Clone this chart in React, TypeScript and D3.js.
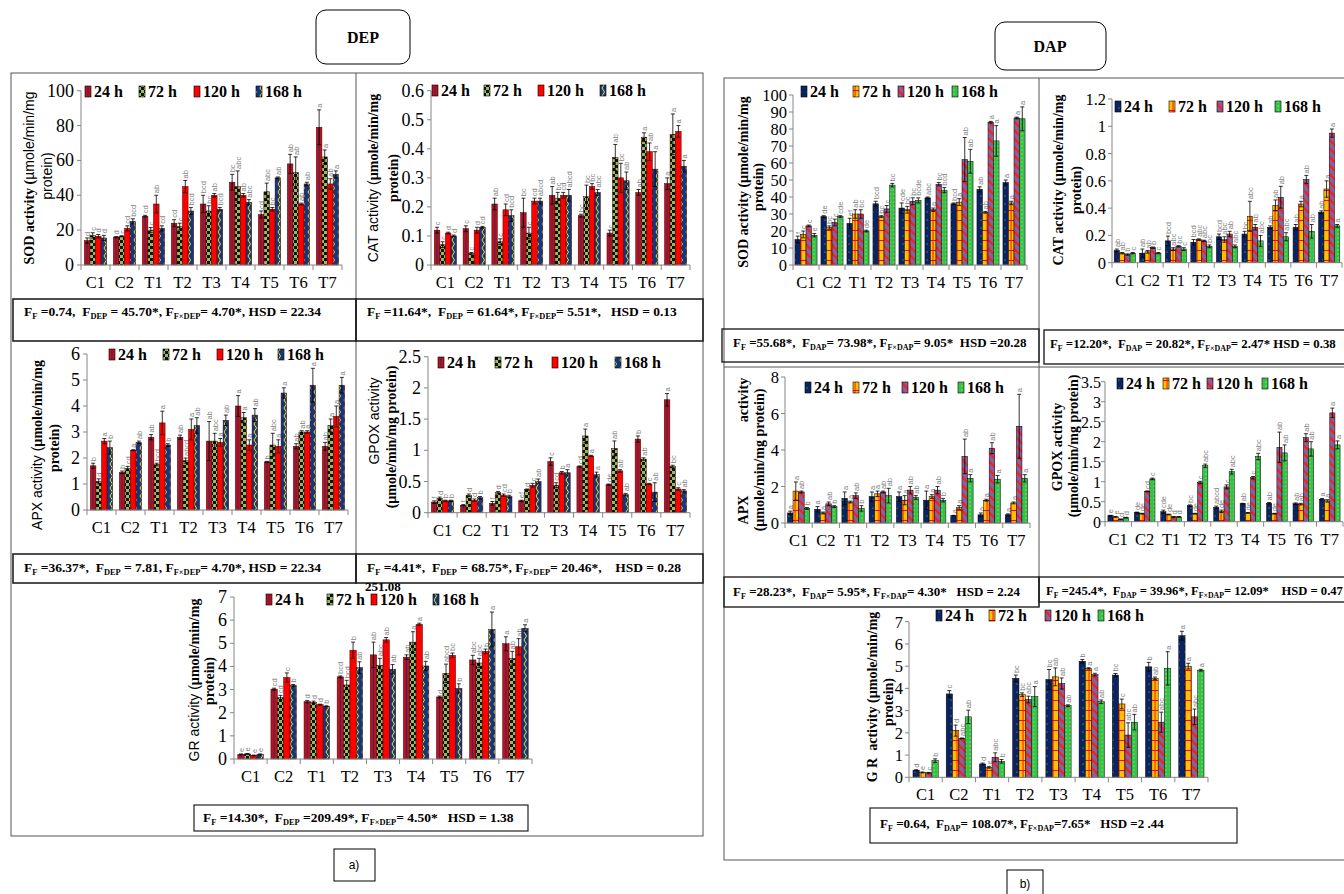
import React from "react";
import * as d3 from "d3";

const categories = ["C1", "C2", "T1", "T2", "T3", "T4", "T5", "T6", "T7"];
const hours = ["24 h", "72 h", "120 h", "168 h"];

// ---- DEP ----
const depSod = [[14, 17, 16.5, 15.5], [16, 16.5, 21, 25], [28, 20, 35, 21], [24, 22, 45, 31], [35, 31, 40, 32], [47.5, 45, 40, 36], [29, 42, 32, 50], [58, 53, 35, 46.5], [79, 62, 46.5, 52]];
const depSodErr = [[1.5, 1.5, 1, 1.5], [0.3, 0.3, 1.5, 1.5], [0.5, 1.5, 5, 1.5], [2, 2, 3.5, 2], [5, 3, 1, 1], [4.5, 9, 1, 1.5], [2, 5, 1, 0.5], [5.5, 9, 0.5, 1], [10, 4, 3, 2]];
const depSodSig = [["d", "c", "d", "d"], ["d", "c", "cd", "bcd"], ["cd", "c", "ab", "cd"], ["cd", "c", "ab", "bcd"], ["bcd", "bc", "ab", "bcd"], ["bc", "abc", "ab", "abc"], ["cd", "abc", "bc", "ab"], ["ab", "ab", "ab", "ab"], ["a", "a", "ab", "a"]];

const depCat = [[0.12, 0.07, 0.11, 0.1], [0.125, 0.04, 0.12, 0.13], [0.21, 0.08, 0.19, 0.17], [0.18, 0.11, 0.22, 0.22], [0.24, 0.23, 0.24, 0.24], [0.17, 0.235, 0.27, 0.25], [0.11, 0.37, 0.3, 0.29], [0.25, 0.44, 0.39, 0.33], [0.28, 0.45, 0.46, 0.34]];
const depCatErr = [[0.01, 0.01, 0.003, 0.003], [0.01, 0.003, 0.01, 0.003], [0.02, 0.01, 0.02, 0.02], [0.05, 0.02, 0.01, 0.01], [0.03, 0.02, 0.01, 0.02], [0.005, 0.04, 0.01, 0.01], [0.01, 0.045, 0.05, 0.03], [0.01, 0.015, 0.03, 0.06], [0.02, 0.07, 0.02, 0.02]];
const depCatSig = [["c", "c", "d", "d"], ["c", "c", "d", "cd"], ["ab", "c", "cd", "bcd"], ["bc", "c", "cd", "abcd"], ["ab", "bc", "cd", "abcd"], ["bc", "bc", "bc", "abc"], ["c", "ab", "bc", "ab"], ["ab", "a", "ab", "a"], ["a", "a", "a", "a"]];

const depApx = [[1.7, 1.1, 2.65, 2.4], [1.45, 1.6, 2.3, 2.6], [2.8, 1.75, 3.35, 2.5], [2.8, 1.9, 3.1, 3.25], [2.65, 2.65, 2.6, 3.45], [4.0, 3.55, 2.5, 3.65], [1.85, 2.5, 2.45, 4.5], [2.45, 3.0, 3.0, 4.8], [2.45, 3.25, 3.6, 4.8]];
const depApxErr = [[0.1, 0.1, 0.1, 0.25], [0.05, 0.08, 0.02, 0.05], [0.1, 0.05, 0.45, 0.05], [0.08, 0.1, 0.4, 0.3], [0.75, 0.3, 0.15, 0.2], [0.4, 0.2, 0.2, 0.25], [0.02, 0.45, 0.25, 0.2], [0.1, 0.05, 0.05, 0.65], [0.15, 0.25, 0.4, 0.3]];
const depApxSig = [["b", "d", "a", "b"], ["b", "cd", "a", "ab"], ["ab", "bcd", "a", "b"], ["ab", "abcd", "a", "ab"], ["ab", "abc", "a", "ab"], ["a", "a", "a", "ab"], ["b", "abc", "a", "a"], ["ab", "ab", "a", "a"], ["ab", "a", "a", "a"]];

const depGpox = [[0.17, 0.23, 0.19, 0.19], [0.12, 0.28, 0.2, 0.24], [0.15, 0.32, 0.28, 0.26], [0.19, 0.37, 0.44, 0.5], [0.82, 0.44, 0.64, 0.64], [0.74, 1.23, 0.91, 0.61], [0.45, 1.03, 0.67, 0.29], [1.18, 0.86, 0.46, 0.33], [1.81, 0.74, 0.38, 0.35]];
const depGpoxErr = [[0.02, 0.02, 0.01, 0.01], [0.01, 0.02, 0.02, 0.02], [0.03, 0.02, 0.02, 0.02], [0.01, 0.01, 0.03, 0.04], [0.06, 0.04, 0.02, 0.05], [0.01, 0.11, 0.01, 0.04], [0.01, 0.12, 0.02, 0.02], [0.05, 0.02, 0.01, 0.15], [0.1, 0.02, 0.02, 0.02]];
const depGpoxSig = [["f", "d", "b", "b"], ["f", "d", "d", "b"], ["f", "d", "cd", "b"], ["ef", "d", "c", "ab"], ["c", "cd", "b", "a"], ["cd", "a", "a", "a"], ["de", "ab", "ab", "ab"], ["b", "ab", "c", "ab"], ["a", "bc", "c", "ab"]];

const depGr = [[0.2, 0.22, 0.15, 0.2], [3.02, 2.65, 3.52, 3.18], [2.48, 2.45, 2.35, 2.28], [3.55, 3.2, 4.7, 3.95], [4.5, 4.05, 5.15, 3.88], [4.4, 5.05, 5.82, 4.02], [2.68, 3.7, 4.48, 3.05], [4.28, 4.15, 4.65, 5.6], [4.98, 4.35, 4.85, 5.65]];
const depGrErr = [[0.02, 0.02, 0.02, 0.02], [0.04, 0.1, 0.2, 0.04], [0.05, 0.05, 0.02, 0.02], [0.04, 0.2, 0.35, 0.25], [0.55, 0.3, 0.1, 0.2], [0.1, 0.45, 0.05, 0.2], [0.04, 0.4, 0.1, 0.2], [0.2, 0.2, 0.1, 0.75], [0.3, 0.3, 0.35, 0.15]];
const depGrSig = [["e", "e", "e", "e"], ["cd", "cd", "c", "b"], ["d", "d", "d", "b"], ["bcd", "bcd", "b", "ab"], ["ab", "abc", "ab", "ab"], ["ab", "a", "a", "ab"], ["d", "abcd", "bc", "b"], ["abc", "abc", "b", "a"], ["a", "ab", "ab", "a"]];

// ---- DAP ----
const dapSod = [[15, 18, 23, 17.5], [28.5, 22, 25, 28.5], [24.5, 30, 30, 20], [36, 28.5, 33, 47], [33.5, 32.5, 37.5, 38], [39.5, 32.5, 47.5, 44], [36, 37, 62, 61], [44.5, 31, 84, 73], [48.5, 36.5, 86.5, 86]];
const dapSodErr = [[2, 2, 0.5, 1], [0.5, 1, 2, 0.5], [3, 2.5, 2.5, 0.5], [1.5, 0.5, 2, 1], [3, 2, 2, 1.5], [0.5, 1, 1, 1.5], [0.5, 2, 13, 7], [1.5, 0.5, 0.5, 9], [1.5, 1, 0.5, 7]];
const dapSodSig = [["f", "c", "c", "e"], ["de", "bc", "c", "cde"], ["ef", "ab", "bc", "de"], ["bcd", "bc", "c", "bc"], ["cde", "bc", "bc", "bcde"], ["abc", "a", "bc", "bcd"], ["bcd", "a", "ab", "ab"], ["ab", "ab", "a", "a"], ["a", "a", "a", "a"]];

const dapCat = [[0.09, 0.07, 0.06, 0.07], [0.07, 0.08, 0.11, 0.07], [0.16, 0.1, 0.12, 0.1], [0.15, 0.17, 0.16, 0.12], [0.19, 0.17, 0.21, 0.12], [0.21, 0.34, 0.26, 0.16], [0.26, 0.42, 0.48, 0.19], [0.26, 0.43, 0.61, 0.23], [0.37, 0.54, 0.95, 0.27]];
const dapCatErr = [[0.01, 0.005, 0.005, 0.005], [0.03, 0.01, 0.005, 0.005], [0.035, 0.01, 0.005, 0.01], [0.02, 0.005, 0.005, 0.01], [0.02, 0.02, 0.02, 0.01], [0.02, 0.11, 0.02, 0.04], [0.01, 0.04, 0.08, 0.03], [0.02, 0.02, 0.03, 0.05], [0.01, 0.06, 0.03, 0.01]];
const dapCatSig = [["ab", "ab", "b", "c"], ["ab", "ab", "b", "c"], ["bcd", "abc", "bc", "c"], ["bcd", "abc", "abc", "bc"], ["bcd", "abc", "ab", "abc"], ["bc", "abc", "ab", "abc"], ["ab", "ab", "ab", "abc"], ["ab", "a", "ab", "ab"], ["ab", "a", "a", "a"]];

const dapApx = [[0.55, 1.75, 1.7, 0.8], [0.75, 0.55, 1.05, 0.9], [1.35, 1.15, 1.5, 0.8], [1.45, 1.6, 1.7, 1.5], [1.45, 1.25, 1.8, 1.4], [1.25, 1.45, 1.8, 1.25], [0.4, 0.85, 3.65, 2.45], [0.45, 1.25, 4.1, 2.4], [0.45, 1.1, 5.3, 2.45]];
const dapApxErr = [[0.1, 0.5, 0.05, 0.05], [0.15, 0.05, 0.1, 0.05], [0.35, 0.05, 0.15, 0.15], [0.25, 0.15, 0.05, 0.4], [0.25, 0.25, 0.2, 0.1], [0.5, 0.1, 0.2, 0.1], [0.02, 0.1, 0.95, 0.2], [0.1, 0.05, 0.3, 0.2], [0.05, 0.05, 1.75, 0.2]];
const dapApxSig = [["a", "a", "ab", "b"], ["a", "a", "ab", "b"], ["a", "a", "ab", "b"], ["a", "a", "ab", "ab"], ["a", "a", "ab", "ab"], ["a", "a", "ab", "b"], ["a", "a", "ab", "a"], ["a", "a", "ab", "a"], ["a", "a", "a", "a"]];

const dapGpox = [[0.15, 0.12, 0.06, 0.1], [0.23, 0.2, 0.76, 1.07], [0.25, 0.18, 0.12, 0.12], [0.4, 0.2, 0.98, 1.4], [0.36, 0.26, 0.87, 1.25], [0.45, 0.22, 1.1, 1.63], [0.46, 0.2, 1.86, 1.72], [0.45, 0.44, 2.1, 1.82], [0.56, 0.52, 2.72, 1.92]];
const dapGpoxErr = [[0.01, 0.01, 0.01, 0.01], [0.01, 0.01, 0.01, 0.02], [0.04, 0.01, 0.01, 0.01], [0.02, 0.01, 0.03, 0.04], [0.03, 0.03, 0.05, 0.06], [0.01, 0.01, 0.03, 0.08], [0.02, 0.01, 0.38, 0.2], [0.02, 0.02, 0.1, 0.18], [0.02, 0.03, 0.12, 0.1]];
const dapGpoxSig = [["e", "e", "d", "d"], ["de", "de", "cd", "c"], ["cde", "de", "d", "d"], ["bc", "de", "c", "abc"], ["abcd", "de", "c", "abc"], ["ab", "de", "c", "abc"], ["ab", "de", "ab", "ab"], ["ab", "ab", "ab", "ab"], ["a", "a", "a", "a"]];

const dapGr = [[0.32, 0.22, 0.2, 0.75], [3.75, 2.1, 1.75, 2.72], [0.6, 0.45, 0.9, 0.72], [4.45, 3.72, 3.5, 3.63], [4.4, 4.52, 4.22, 3.22], [5.22, 4.9, 4.62, 3.4], [4.6, 3.3, 1.9, 2.48], [4.97, 4.45, 2.48, 4.9], [6.37, 5.0, 2.72, 4.82]];
const dapGrErr = [[0.02, 0.02, 0.02, 0.08], [0.15, 0.25, 0.02, 0.3], [0.04, 0.04, 0.2, 0.08], [0.15, 0.08, 0.15, 0.45], [0.45, 0.4, 0.25, 0.04], [0.08, 0.03, 0.06, 0.08], [0.07, 0.22, 0.55, 0.35], [0.2, 0.06, 0.45, 0.75], [0.2, 0.13, 0.35, 0.04]];
const dapGrSig = [["d", "e", "c", "b"], ["c", "d", "abc", "ab"], ["d", "e", "abc", "b"], ["bc", "bc", "abc", "a"], ["bc", "ab", "ab", "ab"], ["b", "a", "a", "ab"], ["bc", "c", "abc", "ab"], ["b", "ab", "abc", "a"], ["a", "a", "abc", "a"]];

// ANOVA summary lines (_{...} = subscript)
const depStats = [
  "F_{F} =0.74,  F_{DEP} = 45.70*, F_{F×DEP}= 4.70*, HSD = 22.34",
  "F_{F} =11.64*,  F_{DEP} = 61.64*, F_{F×DEP}= 5.51*,   HSD = 0.13",
  "F_{F} =36.37*,  F_{DEP} = 7.81, F_{F×DEP}= 4.70*, HSD = 22.34",
  "F_{F} =4.41*,  F_{DEP} = 68.75*, F_{F×DEP}= 20.46*,    HSD = 0.28",
  "F_{F} =14.30*,  F_{DEP} =209.49*, F_{F×DEP}= 4.50*   HSD = 1.38",
];
const dapStats = [
  "F_{F} =55.68*,  F_{DAP}= 73.98*, F_{F×DAP}= 9.05*  HSD =20.28",
  "F_{F} =12.20*,  F_{DAP} = 20.82*, F_{F×DAP}= 2.47* HSD = 0.38",
  "F_{F} =28.23*,  F_{DAP}= 5.95*, F_{F×DAP}= 4.30*   HSD = 2.24",
  "F_{F} =245.4*,  F_{DAP} = 39.96*, F_{F×DAP}= 12.09*    HSD = 0.47",
  "F_{F} =0.64,  F_{DAP}= 108.07*, F_{F×DAP}=7.65*   HSD =2 .44",
];

const SERIF = "'Liberation Serif','Times New Roman',serif";
const SANS = "'Liberation Sans',Arial,sans-serif";
const AXIS = "#868686";

const depFills = ["depA", "depB", "depC", "depD"];
const dapFills = ["dapA", "dapB", "dapC", "dapD"];

const fmt = (v: number) => String(+v.toFixed(2));

type Seg = { t: string; f: "serif" | "sans"; b?: boolean };
type LabelLine = { x: number; cy: number; segs: Seg[] };

function YLabel({ lines, size = 14 }: { lines: LabelLine[]; size?: number }) {
  return (
    <g>
      {lines.map((ln, i) => (
        <text key={i} transform={`translate(${ln.x},${ln.cy}) rotate(-90)`} textAnchor="middle" fontSize={size} style={{ whiteSpace: "pre" }}>
          {ln.segs.map((s, j) => (
            <tspan key={j} fontFamily={s.f === "serif" ? SERIF : SANS} fontWeight={s.b ? "bold" : "normal"}>{s.t}</tspan>
          ))}
        </text>
      ))}
    </g>
  );
}

function Stat({ x, y, text, size = 13.5 }: { x: number; y: number; text: string; size?: number }) {
  const parts = text.split(/(_\{[^}]*\})/).filter((p) => p.length > 0);
  let down = false;
  const spans = parts.map((p, i) => {
    if (p.startsWith("_{")) {
      const el = <tspan key={i} fontSize={size * 0.62} dy={down ? 0 : 3}>{p.slice(2, -1)}</tspan>;
      down = true;
      return el;
    }
    const el = <tspan key={i} dy={down ? -3 : 0}>{p}</tspan>;
    down = false;
    return el;
  });
  return (
    <text x={x} y={y} fontFamily={SERIF} fontWeight="bold" fontSize={size} style={{ whiteSpace: "pre" }}>
      {spans}
    </text>
  );
}

type PanelCfg = {
  means: number[][];
  errs: number[][];
  sig: string[][];
  x0: number; x1: number; yTop: number; y0: number;
  max: number; step: number; ratio: number;
  fills: string[]; stroke: string;
  tickSize: number; tickGap: number;
  legend: { x: number; y: number; off: number[] };
  ylab: LabelLine[];
};

function BarPanel({ c }: { c: PanelCfg }) {
  const x = d3.scaleBand<string>().domain(categories).range([c.x0, c.x1]);
  const bw = x.bandwidth();
  const gw = bw * c.ratio;
  const xi = d3.scaleBand<string>().domain(hours).range([(bw - gw) / 2, (bw + gw) / 2]);
  const y = d3.scaleLinear().domain([0, c.max]).range([c.y0, c.yTop]);
  const ticks = d3.range(0, c.max + c.step / 2, c.step);
  const w = xi.bandwidth();
  return (
    <g>
      {categories.map((cat, ci) =>
        hours.map((h, hi) => {
          const v = c.means[ci][hi];
          const e = c.errs[ci][hi];
          const bx = (x(cat) as number) + (xi(h) as number);
          const cx = bx + w / 2;
          const top = y(v + e);
          const bot = y(Math.max(0, v - e));
          return (
            <g key={cat + h}>
              <rect x={bx} y={y(v)} width={w} height={c.y0 - y(v)} fill={`url(#${c.fills[hi]})`} stroke={c.stroke} strokeWidth={0.5} />
              <line x1={cx} x2={cx} y1={bot} y2={top} stroke="#000" strokeWidth={0.8} />
              <line x1={cx - 2} x2={cx + 2} y1={top} y2={top} stroke="#000" strokeWidth={0.8} />
              <line x1={cx - 2} x2={cx + 2} y1={bot} y2={bot} stroke="#000" strokeWidth={0.8} />
              <text transform={`translate(${cx + 3},${top - 2}) rotate(-90)`} fontSize={7.5} fill="#7f7f7f" fontFamily={SANS}>
                {c.sig[ci][hi]}
              </text>
            </g>
          );
        })
      )}
      <line x1={c.x0} x2={c.x0} y1={c.y0} y2={c.yTop} stroke={AXIS} />
      {ticks.map((t) => (
        <g key={t}>
          <line x1={c.x0 - 4} x2={c.x0} y1={y(t)} y2={y(t)} stroke={AXIS} />
          <text x={c.x0 - c.tickGap} y={y(t) + 6} textAnchor="end" fontFamily={SERIF} fontSize={c.tickSize}>{fmt(t)}</text>
        </g>
      ))}
      <line x1={c.x0} x2={c.x1} y1={c.y0} y2={c.y0} stroke={AXIS} />
      {d3.range(categories.length + 1).map((i) => (
        <line key={i} x1={c.x0 + i * bw} x2={c.x0 + i * bw} y1={c.y0} y2={c.y0 + 5} stroke={AXIS} />
      ))}
      {categories.map((cat) => (
        <text key={cat} x={(x(cat) as number) + bw / 2} y={c.y0 + 23} textAnchor="middle" fontFamily={SERIF} fontSize={16.5}>{cat}</text>
      ))}
      {hours.map((h, hi) => (
        <g key={h}>
          <rect x={c.legend.x + c.legend.off[hi]} y={c.legend.y - 11} width={6} height={11} fill={`url(#${c.fills[hi]})`} stroke="#000" strokeWidth={0.6} />
          <text x={c.legend.x + c.legend.off[hi] + 9} y={c.legend.y} fontFamily={SERIF} fontWeight="bold" fontSize={16}>{h}</text>
        </g>
      ))}
      <YLabel lines={c.ylab} />
    </g>
  );
}

const bs = (t: string): Seg => ({ t, f: "serif", b: true });
const ss = (t: string): Seg => ({ t, f: "sans" });

const panels: PanelCfg[] = [
  {
    means: depSod, errs: depSodErr, sig: depSodSig,
    x0: 81, x1: 342, yTop: 90.7, y0: 265, max: 100, step: 20, ratio: 0.77,
    fills: depFills, stroke: "#400", tickSize: 18, tickGap: 7,
    legend: { x: 85, y: 97, off: [0, 54, 109, 171] },
    ylab: [{ x: 34, cy: 178, segs: [bs("SOD activity ("), ss("µmole/min/mg")] }, { x: 52, cy: 176, segs: [ss("protein)")] }],
  },
  {
    means: depCat, errs: depCatErr, sig: depCatSig,
    x0: 431, x1: 690, yTop: 90.7, y0: 265, max: 0.6, step: 0.1, ratio: 0.77,
    fills: depFills, stroke: "#400", tickSize: 18, tickGap: 7,
    legend: { x: 432, y: 96, off: [0, 52, 106, 168] },
    ylab: [{ x: 378, cy: 178, segs: [ss("CAT activity ("), bs("µmole/min/mg")] }, { x: 398, cy: 178, segs: [bs("protein)")] }],
  },
  {
    means: depApx, errs: depApxErr, sig: depApxSig,
    x0: 87, x1: 348, yTop: 354, y0: 510, max: 6, step: 1, ratio: 0.77,
    fills: depFills, stroke: "#400", tickSize: 18, tickGap: 7,
    legend: { x: 109, y: 360, off: [0, 54, 108, 169] },
    ylab: [{ x: 42, cy: 445, segs: [ss("APX activity ("), bs("µmole/min/mg")] }, { x: 59, cy: 448, segs: [bs("protein)")] }],
  },
  {
    means: depGpox, errs: depGpoxErr, sig: depGpoxSig,
    x0: 428, x1: 690, yTop: 356.7, y0: 512.7, max: 2.5, step: 0.5, ratio: 0.77,
    fills: depFills, stroke: "#400", tickSize: 18, tickGap: 7,
    legend: { x: 438, y: 368, off: [0, 57, 114, 177] },
    ylab: [{ x: 379, cy: 421, segs: [ss("GPOX activity")] }, { x: 396, cy: 437, segs: [bs("(µmole/min/mg protein)")] }],
  },
  {
    means: depGr, errs: depGrErr, sig: depGrSig,
    x0: 234, x1: 532, yTop: 597, y0: 759, max: 7, step: 1, ratio: 0.77,
    fills: depFills, stroke: "#400", tickSize: 18, tickGap: 7,
    legend: { x: 266, y: 605, off: [0, 61, 105, 167] },
    ylab: [{ x: 199, cy: 680, segs: [ss("GR activity ("), bs("µmole/min/mg")] }, { x: 214, cy: 681, segs: [bs("protein)")] }],
  },
  {
    means: dapSod, errs: dapSodErr, sig: dapSodSig,
    x0: 793, x1: 1027, yTop: 95, y0: 265, max: 100, step: 10, ratio: 0.85,
    fills: dapFills, stroke: "#000", tickSize: 16.5, tickGap: 6,
    legend: { x: 801, y: 97, off: [0, 52, 97, 151] },
    ylab: [{ x: 748, cy: 182, segs: [bs("SOD activity (µmole/min/mg")] }, { x: 763, cy: 187, segs: [bs("protein)")] }],
  },
  {
    means: dapCat, errs: dapCatErr, sig: dapCatSig,
    x0: 1112, x1: 1342, yTop: 99, y0: 262.7, max: 1.2, step: 0.2, ratio: 0.83,
    fills: dapFills, stroke: "#000", tickSize: 16.5, tickGap: 6,
    legend: { x: 1115, y: 112, off: [0, 54, 102, 160] },
    ylab: [{ x: 1063, cy: 180, segs: [bs("CAT activity (µmole/min/mg")] }, { x: 1081, cy: 190, segs: [bs("protein)")] }],
  },
  {
    means: dapApx, errs: dapApxErr, sig: dapApxSig,
    x0: 785, x1: 1030, yTop: 377, y0: 523, max: 8, step: 2, ratio: 0.82,
    fills: dapFills, stroke: "#000", tickSize: 16.5, tickGap: 6,
    legend: { x: 805, y: 393, off: [0, 48, 97, 153] },
    ylab: [
      { x: 748, cy: 400, segs: [bs("activity")] },
      { x: 748, cy: 510, segs: [bs("APX")] },
      { x: 764, cy: 460, segs: [bs("(µmole/min/mg protein)")] },
    ],
  },
  {
    means: dapGpox, errs: dapGpoxErr, sig: dapGpoxSig,
    x0: 1105, x1: 1343, yTop: 381.7, y0: 521.7, max: 3.5, step: 0.5, ratio: 0.78,
    fills: dapFills, stroke: "#000", tickSize: 16, tickGap: 4,
    legend: { x: 1117, y: 389, off: [0, 46, 90, 145] },
    ylab: [{ x: 1062, cy: 447, segs: [bs("GPOX activity")] }, { x: 1078, cy: 446, segs: [bs("(µmole/min/mg protein)")] }],
  },
  {
    means: dapGr, errs: dapGrErr, sig: dapGrSig,
    x0: 909, x1: 1208, yTop: 621.7, y0: 777.3, max: 7, step: 1, ratio: 0.76,
    fills: dapFills, stroke: "#000", tickSize: 16.5, tickGap: 6,
    legend: { x: 936, y: 621, off: [0, 53, 109, 162] },
    ylab: [{ x: 877, cy: 697, segs: [bs("G R  activity (µmole/min/mg")] }, { x: 893, cy: 702, segs: [bs("protein)")] }],
  },
];

function Patterns() {
  return (
    <defs>
      <pattern id="depA" patternUnits="objectBoundingBox" patternContentUnits="objectBoundingBox" width={1} height={1}>
        <rect width={1} height={1} fill="#C0101C" />
        <rect x={0.42} width={0.16} height={1} fill="#2B2A66" />
      </pattern>
      <pattern id="depB" patternUnits="userSpaceOnUse" width={6} height={6}>
        <rect width={6} height={6} fill="#9BBB59" />
        <rect width={3} height={3} fill="#111" />
        <rect x={3} y={3} width={3} height={3} fill="#111" />
      </pattern>
      <pattern id="depC" patternUnits="userSpaceOnUse" width={6} height={6}>
        <rect width={6} height={6} fill="#FF0000" />
      </pattern>
      <pattern id="depD" patternUnits="userSpaceOnUse" width={6} height={8}>
        <rect width={6} height={8} fill="#17357E" />
        <path d="M2,0 L4.5,4 L2,8" stroke="#FFFF00" strokeWidth={0.9} fill="none" />
      </pattern>
      <pattern id="dapA" patternUnits="userSpaceOnUse" width={6} height={8}>
        <rect width={6} height={8} fill="#0A2463" />
        <circle cx={3} cy={4} r={0.6} fill="#92D050" />
      </pattern>
      <pattern id="dapB" patternUnits="userSpaceOnUse" width={6} height={10}>
        <rect width={6} height={10} fill="#FFC000" />
        <rect y={0} width={6} height={1} fill="#FF0000" />
        <rect x={2.6} width={0.9} height={10} fill="#FF0000" />
      </pattern>
      <pattern id="dapC" patternUnits="userSpaceOnUse" width={6} height={6} patternTransform="rotate(-45)">
        <rect width={6} height={6} fill="#8064A2" />
        <rect width={2.2} height={6} fill="#FF1A1A" />
      </pattern>
      <pattern id="dapD" patternUnits="userSpaceOnUse" width={4} height={4}>
        <rect width={4} height={4} fill="#33C24A" />
        <circle cx={2} cy={2} r={0.55} fill="#FFFF66" />
      </pattern>
    </defs>
  );
}

export default function App() {
  return (
    <svg width={1344} height={894} style={{ position: "absolute", left: 0, top: 0, background: "#fff" }}>
      <Patterns />
      <rect width={1344} height={894} fill="#fff" />

      {/* DEP frame */}
      <rect x={316} y={10} width={94} height={54} rx={10} fill="none" stroke="#000" />
      <text x={363} y={43} textAnchor="middle" fontFamily={SERIF} fontWeight="bold" fontSize={16}>DEP</text>
      <rect x={11} y={73} width={692} height={763} fill="none" stroke="#555" />
      <line x1={356} x2={356} y1={73} y2={583} stroke="#555" />
      <rect x={13} y={299} width={343} height={42} fill="none" stroke="#222" strokeWidth={1.6} />
      <rect x={356} y={299} width={347} height={42} fill="none" stroke="#222" strokeWidth={1.6} />
      <rect x={13} y={554} width={343} height={29} fill="none" stroke="#222" strokeWidth={1.6} />
      <rect x={356} y={554} width={347} height={29} fill="none" stroke="#222" strokeWidth={1.6} />
      <rect x={194} y={805} width={334} height={26} fill="none" stroke="#222" strokeWidth={1.2} />

      {/* DAP frame */}
      <rect x={995} y={22} width={111} height={48} rx={10} fill="none" stroke="#000" />
      <text x={1050} y={52} textAnchor="middle" fontFamily={SERIF} fontWeight="bold" fontSize={16}>DAP</text>
      <rect x={724} y={78} width={640} height={782} fill="none" stroke="#555" />
      <line x1={1039} x2={1039} y1={78} y2={607} stroke="#555" />
      <line x1={724} x2={1344} y1={367} y2={367} stroke="#555" />
      <rect x={722} y={329} width={317} height={33} fill="none" stroke="#222" strokeWidth={1.4} />
      <rect x={1044} y={330} width={310} height={34} fill="none" stroke="#222" strokeWidth={1.4} />
      <rect x={724} y={577} width={315} height={30} fill="none" stroke="#222" strokeWidth={1.4} />
      <rect x={1039} y={577} width={315} height={25} fill="none" stroke="#222" strokeWidth={1.4} />
      <rect x={870} y={808} width={367} height={35} fill="none" stroke="#222" strokeWidth={1.2} />

      {panels.map((p, i) => (
        <BarPanel key={i} c={p} />
      ))}

      <Stat x={24} y={316} text={depStats[0]} />
      <Stat x={367} y={316} text={depStats[1]} />
      <Stat x={24} y={572} text={depStats[2]} />
      <Stat x={367} y={572} text={depStats[3]} />
      <text x={365} y={591} fontFamily={SERIF} fontWeight="bold" fontSize={13}>251.08</text>
      <Stat x={203} y={822} text={depStats[4]} />
      <Stat x={733} y={347} text={dapStats[0]} size={13} />
      <Stat x={1050} y={348} text={dapStats[1]} size={12.8} />
      <Stat x={733} y={596} text={dapStats[2]} size={13} />
      <Stat x={1046} y={595} text={dapStats[3]} size={12.6} />
      <Stat x={880} y={828} text={dapStats[4]} size={13} />

      <rect x={334} y={849} width={41} height={32} fill="none" stroke="#000" />
      <text x={354} y={869} textAnchor="middle" fontFamily={SANS} fontSize={12}>a)</text>
      <rect x={1007} y={870} width={36} height={26} fill="none" stroke="#000" />
      <text x={1025} y={888} textAnchor="middle" fontFamily={SANS} fontSize={12}>b)</text>
    </svg>
  );
}
